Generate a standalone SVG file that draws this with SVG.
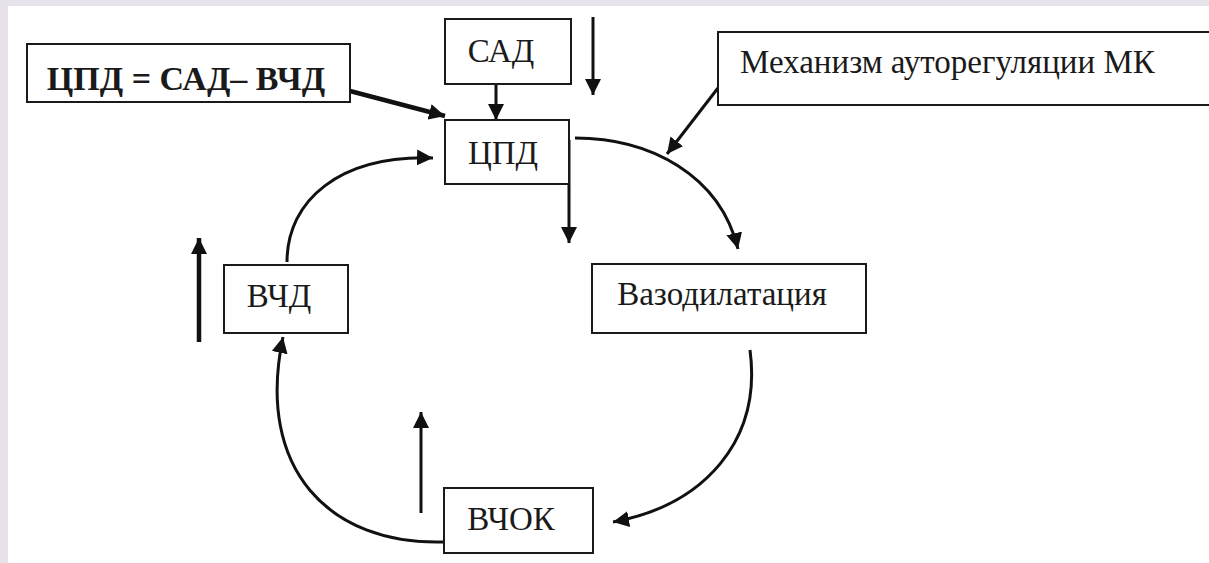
<svg xmlns="http://www.w3.org/2000/svg" width="1209" height="563" viewBox="0 0 1209 563">
<style>
.box{fill:#fff;stroke:#1a1a1a;stroke-width:2}
.t{font-family:'Liberation Serif','DejaVu Serif','Times New Roman',serif;font-size:33px;fill:#1a1a1a}
.b{font-weight:bold;font-size:34px}
.c{fill:none;stroke:#111;stroke-width:3}
.k{stroke-width:4.5}
</style>
<defs>
<marker id="ah" markerUnits="userSpaceOnUse" markerWidth="18" markerHeight="16" refX="16" refY="8" orient="auto">
<path d="M0,0 L16,8 L0,16 z" fill="#111"/>
</marker>
</defs>
<rect x="0" y="0" width="1209" height="563" fill="#e8e3ea"/>
<rect x="8" y="6" width="1201" height="557" fill="#fff"/>

<g id="connectors">
<path class="c k" d="M350,91 L445,116" marker-end="url(#ah)"/>
<path class="c" d="M496,84 L496,120" marker-end="url(#ah)"/>
<path class="c" d="M593,17 L593,95" marker-end="url(#ah)"/>
<path class="c" d="M569,140 L569,243" marker-end="url(#ah)"/>
<path class="c" d="M575,138 C650,138 720,175 738,249" marker-end="url(#ah)"/>
<path class="c" d="M718,88 L667,154" marker-end="url(#ah)"/>
<path class="c" d="M750,350 C762,440 705,505 613,522" marker-end="url(#ah)"/>
<path class="c" d="M443,542 C330,545 255,470 283,337" marker-end="url(#ah)"/>
<path class="c" d="M287,262 C287,200 340,155 433,158" marker-end="url(#ah)"/>
<path class="c k" d="M199,342 L199,238" marker-end="url(#ah)"/>
<path class="c" d="M421,513 L421,412" marker-end="url(#ah)"/>
</g>

<g id="formula">
<rect class="box" x="27" y="44" width="323" height="58"/>
<text class="t b" x="186" y="90" text-anchor="middle">ЦПД = САД– ВЧД</text>
</g>
<g id="sad">
<rect class="box" x="445" y="19" width="126" height="65"/>
<text class="t" x="501" y="62" text-anchor="middle">САД</text>
</g>
<g id="cpd">
<rect class="box" x="445" y="120" width="124" height="64"/>
<text class="t" x="503" y="164" text-anchor="middle">ЦПД</text>
</g>
<g id="mechanism">
<rect class="box" x="718" y="32" width="500" height="73"/>
<text class="t" x="740" y="73">Механизм ауторегуляции МК</text>
</g>
<g id="vasodilation">
<rect class="box" x="592" y="264" width="274" height="69"/>
<text class="t" x="722" y="305" text-anchor="middle">Вазодилатация</text>
</g>
<g id="vchd">
<rect class="box" x="224" y="265" width="124" height="68"/>
<text class="t" x="279" y="307" text-anchor="middle">ВЧД</text>
</g>
<g id="vchok">
<rect class="box" x="444" y="488" width="149" height="65"/>
<text class="t" x="511" y="530" text-anchor="middle">ВЧОК</text>
</g>
</svg>
